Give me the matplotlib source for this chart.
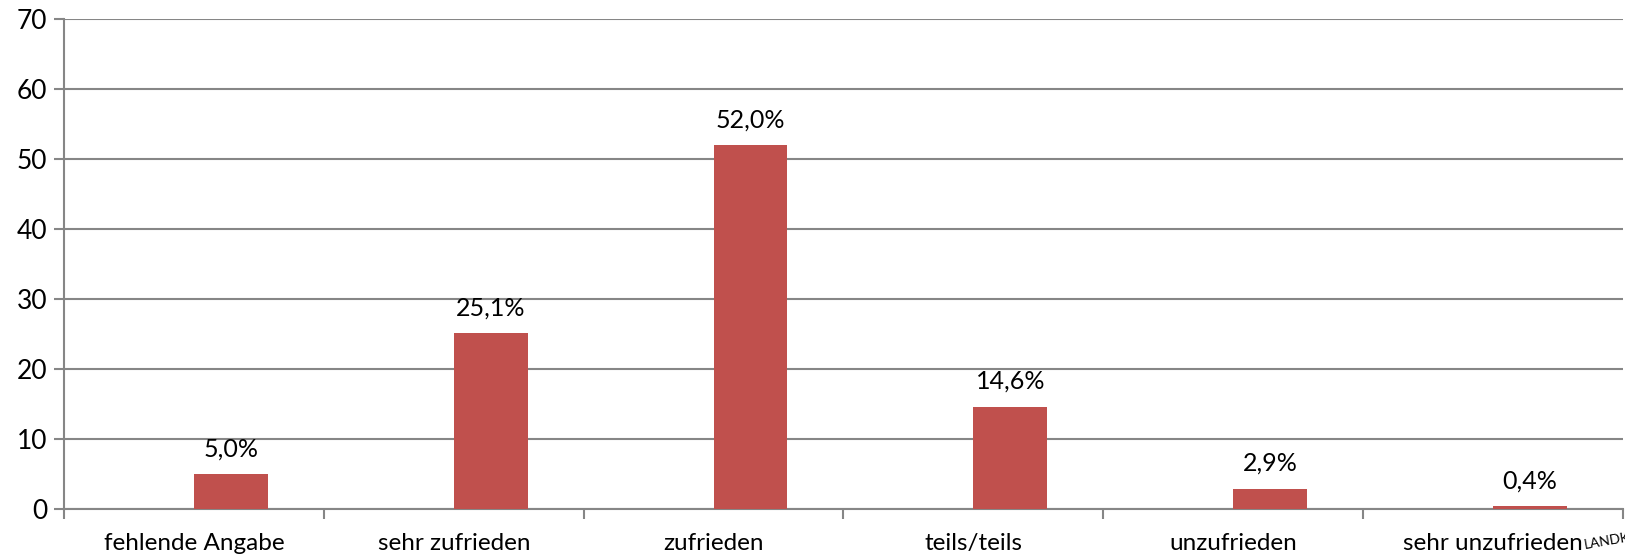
import matplotlib.pyplot as plt
import numpy as np

plt.rcParams['font.family'] = ['Lato', 'DejaVu Sans']

categories = ['fehlende Angabe', 'sehr zufrieden', 'zufrieden', 'teils/teils',
              'unzufrieden', 'sehr unzufrieden']
values = [5.0, 25.1, 52.0, 14.6, 2.9, 0.4]
labels = ['5,0%', '25,1%', '52,0%', '14,6%', '2,9%', '0,4%']

grey = '#868686'
bar_color = '#C0504D'

fig = plt.figure(figsize=(16.25, 5.59), dpi=100)
ax = fig.add_axes([64 / 1625, 50 / 559, 1559 / 1625, 490 / 559])

x = np.arange(len(categories))
width = 0.284
bars = ax.bar(x + width / 2, values, width=width, color=bar_color, zorder=3)

for b, lab in zip(bars, labels):
    ax.annotate(lab, (b.get_x() + b.get_width() / 2, b.get_height()),
                xytext=(0, 10), textcoords='offset points', ha='center',
                va='bottom', fontsize=18)

ax.set_xlim(-0.5, len(categories) - 0.5)
ax.set_ylim(0, 70)
ax.set_yticks(range(0, 71, 10))
ax.yaxis.grid(True, color=grey, linewidth=1.5, zorder=0)
ax.tick_params(axis='y', length=7, width=1.5, color=grey, labelsize=19, pad=5)

ax.set_xticks(x)
ax.set_xticklabels(categories, fontsize=17.5)
ax.tick_params(axis='x', which='major', length=0, pad=17)
ax.set_xticks(np.arange(len(categories) + 1) - 0.5, minor=True)
ax.tick_params(axis='x', which='minor', length=7, width=1.5, color=grey)

for side in ['top', 'right']:
    ax.spines[side].set_visible(False)
for side in ['left', 'bottom']:
    ax.spines[side].set_color(grey)
    ax.spines[side].set_linewidth(1.5)

# small cut-off watermark at the bottom right, as in the source
fig.text(1583 / 1625, 1 - 541 / 559, 'LANDK', fontsize=10, rotation=10,
         ha='left', va='center')

plt.savefig('out.png', dpi=100)
